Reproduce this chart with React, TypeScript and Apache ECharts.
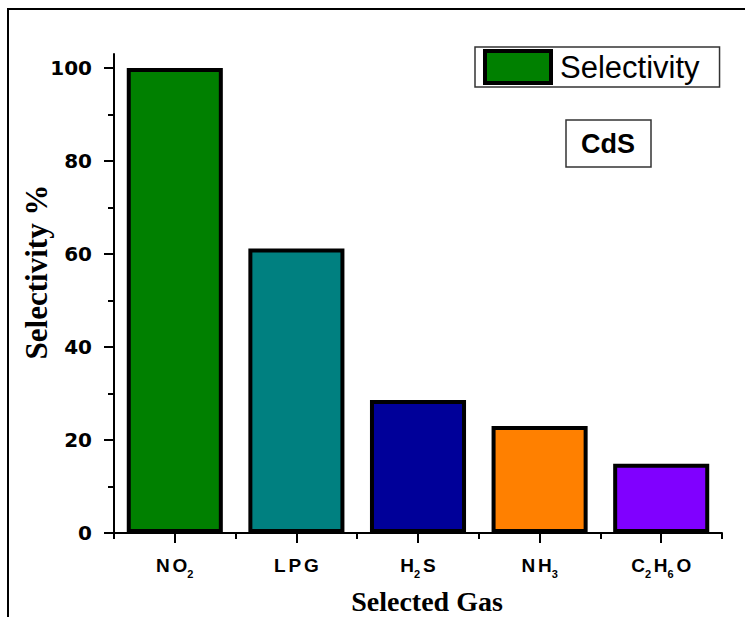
import React, { useEffect, useRef } from "react";
import * as echarts from "echarts";

const categories = ["NO2", "LPG", "H2S", "NH3", "C2H6O"];
const selectivity = [100, 61.2, 28.6, 23.0, 14.9];
const barColors = ["#008000", "#008080", "#000099", "#FF8000", "#8000FF"];
const yMajorTicks = [0, 20, 40, 60, 80, 100];
const yMinorTicks = [10, 30, 50, 70, 90];
const seriesName = "Selectivity";
const yTitle = "Selectivity %";
const xTitle = "Selected Gas";
const sampleLabel = "CdS";

function richLabel(name: string): string {
  const parts: string[] = [];
  const chars = name.split("");
  chars.forEach((c, i) => {
    if (/[0-9]/.test(c)) {
      parts.push(`{s|${c}}`);
    } else {
      if (i > 0) parts.push("{g| }");
      parts.push(`{m|${c}}`);
    }
  });
  return parts.join("");
}

export default function App() {
  const ref = useRef<HTMLDivElement>(null);
  useEffect(() => {
    document.body.style.margin = "0";
    if (!ref.current) return;
    const chart = echarts.init(ref.current, null, { renderer: "svg" });
    const option: any = {
      animation: false,
      backgroundColor: "#ffffff",
      grid: { left: 114, right: 23, top: 54, bottom: 84, containLabel: false },
      legend: {
        show: true,
        data: [{ name: seriesName, icon: "rect" }],
        left: 475,
        top: 47,
        padding: [2, 20, 2, 8],
        borderColor: "#333",
        borderWidth: 1.5,
        itemWidth: 66,
        itemHeight: 32,
        itemStyle: { color: barColors[0], borderColor: "#000", borderWidth: 4 },
        textStyle: { fontFamily: "Liberation Sans, Arial", fontSize: 31, color: "#000", padding: [0, 0, 0, 4] },
      },
      xAxis: [
        {
          type: "category",
          data: categories,
          position: "bottom",
          axisLine: { show: true, lineStyle: { color: "#000", width: 2 } },
          axisTick: { show: true, alignWithLabel: true, length: 10, lineStyle: { color: "#000", width: 2 } },
          axisLabel: {
            interval: 0,
            margin: 23,
            formatter: (v: string) => richLabel(v),
            rich: {
              m: { fontFamily: "Liberation Sans, Arial", fontWeight: "bold", fontSize: 19, color: "#000", lineHeight: 20, verticalAlign: "top" },
              g: { fontFamily: "Liberation Sans, Arial", fontSize: 10, lineHeight: 23, verticalAlign: "top" },
              s: { fontFamily: "Liberation Sans, Arial", fontWeight: "bold", fontSize: 11, color: "#000", lineHeight: 4, verticalAlign: "bottom" },
            },
          },
          splitLine: { show: false },
        },
        {
          type: "category",
          data: categories,
          position: "bottom",
          offset: 0,
          axisLine: { show: false },
          axisTick: { show: true, alignWithLabel: false, interval: 0, length: 6, lineStyle: { color: "#000", width: 2 } },
          axisLabel: { show: false },
          splitLine: { show: false },
        },
      ],
      yAxis: [
        {
          type: "value",
          min: 0,
          max: 103,
          position: "left",
          axisLine: { show: true, lineStyle: { color: "#000", width: 2 } },
          axisTick: { show: true, length: 10, customValues: yMajorTicks, lineStyle: { color: "#000", width: 2 } },
          axisLabel: {
            customValues: yMajorTicks,
            margin: 22,
            fontFamily: "DejaVu Sans",
            fontWeight: "bold",
            fontSize: 20,
            color: "#000",
          },
          splitLine: { show: false },
        },
        {
          type: "value",
          min: 0,
          max: 103,
          position: "left",
          offset: 0,
          axisLine: { show: false },
          axisTick: { show: true, length: 6, customValues: yMinorTicks, lineStyle: { color: "#000", width: 2 } },
          axisLabel: { show: false },
          splitLine: { show: false },
        },
      ],
      series: [
        {
          name: seriesName,
          type: "bar",
          xAxisIndex: 0,
          yAxisIndex: 0,
          barWidth: "79%",
          itemStyle: { color: barColors[0], borderColor: "#000", borderWidth: 4 },
          data: selectivity.map((v, i) => ({ value: v, itemStyle: { color: barColors[i] } })),
        },
      ],
      graphic: [
        {
          type: "polyline",
          shape: { points: [[8, 617], [8, 9], [745, 9]] },
          style: { stroke: "#000", lineWidth: 2, fill: "none" },
          z: 10,
        },
        {
          type: "rect",
          shape: { x: 566, y: 120, width: 85, height: 47 },
          style: { stroke: "#333", lineWidth: 1.5, fill: "#fff" },
          z: 10,
        },
        {
          type: "text",
          x: 608,
          y: 144,
          style: {
            text: sampleLabel,
            fontFamily: "Liberation Sans, Arial",
            fontWeight: "bold",
            fontSize: 27,
            fill: "#000",
            align: "center",
            verticalAlign: "middle",
          },
          z: 11,
        },
        {
          type: "text",
          x: 36,
          y: 272,
          rotation: Math.PI / 2,
          style: {
            text: yTitle,
            fontFamily: "Liberation Serif, Times New Roman",
            fontWeight: "bold",
            fontSize: 31,
            fill: "#000",
            align: "center",
            verticalAlign: "middle",
          },
          z: 10,
        },
        {
          type: "text",
          x: 427,
          y: 601,
          style: {
            text: xTitle,
            fontFamily: "Liberation Serif, Times New Roman",
            fontWeight: "bold",
            fontSize: 28,
            fill: "#000",
            align: "center",
            verticalAlign: "middle",
          },
          z: 10,
        },
      ],
    };
    chart.setOption(option);
    return () => chart.dispose();
  }, []);
  return <div ref={ref} style={{ width: 745, height: 617 }} />;
}
